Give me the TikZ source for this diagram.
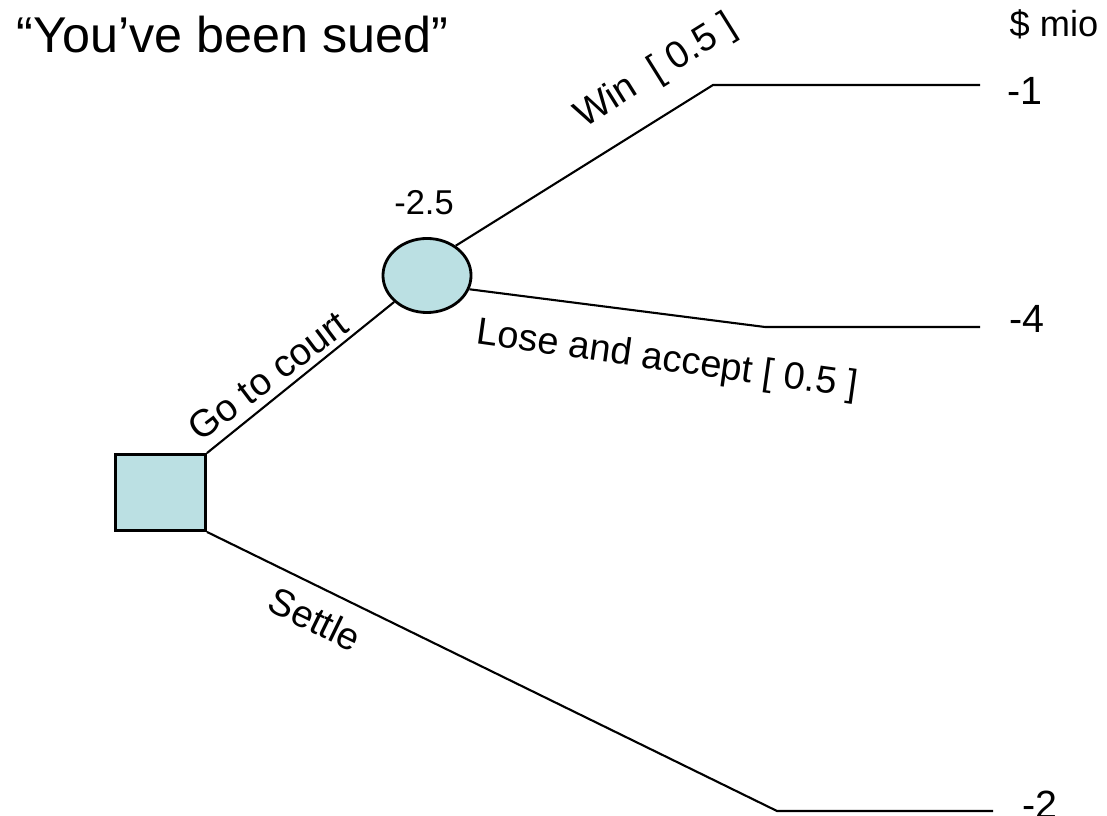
\documentclass[tikz,border=0pt]{standalone}
\usepackage{fontspec}
\setmainfont{Liberation Sans}
\usetikzlibrary{shapes,arrows}
\usetikzlibrary{shapes.geometric}
\definecolor{treeblue}{HTML}{BBE0E3}

\begin{document}
\begin{tikzpicture}[x=0.01cm,y=-0.01cm,
        decision/.style={draw,line width=0.8pt,fill=treeblue,minimum width=0.9cm,minimum height=0.76cm,inner sep=0pt},
        chance/.style={ellipse,draw,line width=0.8pt,fill=treeblue,minimum width=0.88cm,minimum height=0.74cm,inner sep=0pt},
        branch/.style={line width=0.6pt},
        lbl/.style={font=\fontsize{10.8}{12}\selectfont,inner sep=0pt},
        payoff/.style={font=\fontsize{11.2}{13}\selectfont,anchor=base west,inner sep=0pt}
        ]
        \useasboundingbox (0,0) rectangle (1107,816);

        \node[font=\fontsize{14.3}{17}\selectfont,anchor=base west,inner sep=0pt] (title) at (16,53) {“You’ve been sued”};
        \node[font=\fontsize{10.3}{12}\selectfont,anchor=base west,inner sep=0pt] (unit) at (1009,37) {\$ mio};

        \node[decision] (dec) at (160.5,492.5) {};
        \node[chance] (chance) at (427,275.5) {};
        \node[font=\fontsize{9.8}{11}\selectfont,anchor=base,inner sep=0pt] (ev) at (424,215) {-2.5};

        \coordinate (winbend) at (713,85);
        \coordinate (winend) at (980,85);
        \coordinate (losebend) at (765,327);
        \coordinate (loseend) at (980,327);
        \coordinate (settlebend) at (777,811);
        \coordinate (settleend) at (993,811);

        \node[payoff] (p1) at (1007,105) {-1};
        \node[payoff] (p4) at (1009,333) {-4};
        \node[payoff] (p2) at (1022,818) {-2};

        \draw[branch] (dec.north east) to (chance);
        \draw[branch] (chance.46) to (winbend) to (winend);
        \draw[branch] (chance.-18) to (losebend) to (loseend);
        \draw[branch] (dec.south east) to (settlebend) to (settleend);

        \node[lbl,rotate=37] (court) at (268,376) {Go to court};
        \node[lbl,rotate=32] (win) at (656,72) {Win\ \ [ 0.5 ]};
        \node[lbl,rotate=-8] (lose) at (667,361) {Lose and accept [ 0.5 ]};
        \node[lbl,rotate=-26] (settle) at (315,619) {Settle};

    \end{tikzpicture}
\end{document}
